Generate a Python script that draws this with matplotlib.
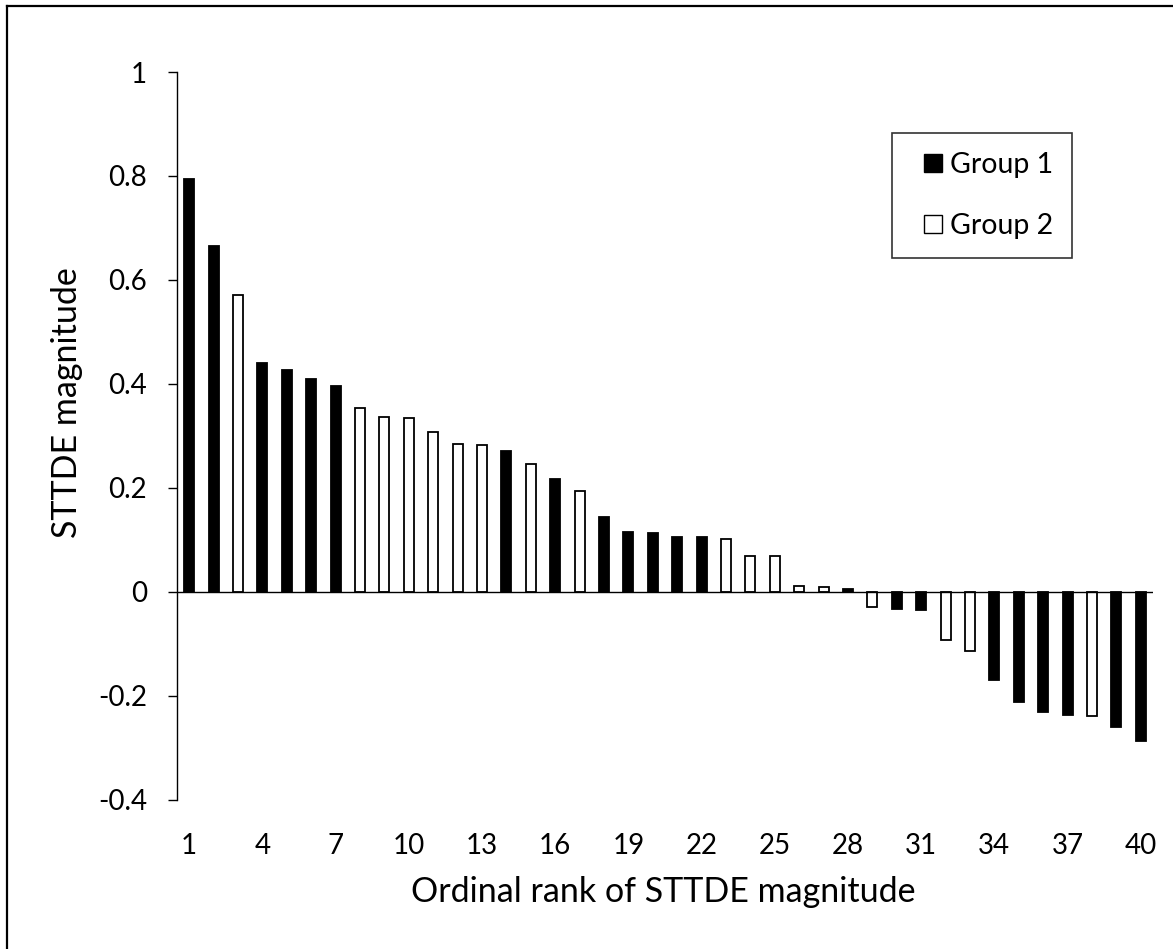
import matplotlib
matplotlib.use("Agg")
import matplotlib.pyplot as plt
from matplotlib.lines import Line2D

plt.rcParams['font.family'] = ['Lato', 'DejaVu Sans']

ranks = list(range(1, 41))
values = [0.794, 0.665, 0.571, 0.440, 0.426, 0.410, 0.397, 0.354, 0.337, 0.335,
          0.308, 0.285, 0.283, 0.272, 0.246, 0.218, 0.194, 0.144, 0.115, 0.113,
          0.106, 0.106, 0.102, 0.070, 0.069, 0.011, 0.010, 0.005, -0.028, -0.033,
          -0.035, -0.093, -0.113, -0.169, -0.212, -0.230, -0.236, -0.238, -0.260, -0.287]
groups = [1, 1, 2, 1, 1, 1, 1, 2, 2, 2,
          2, 2, 2, 1, 2, 1, 2, 1, 1, 1,
          1, 1, 2, 2, 2, 2, 2, 1, 2, 1,
          1, 2, 2, 1, 1, 1, 1, 2, 1, 1]
xtick_values = list(range(1, 41, 3))
ytick_values = [-0.4, -0.2, 0, 0.2, 0.4, 0.6, 0.8, 1]
ytick_labels = ['-0.4', '-0.2', '0', '0.2', '0.4', '0.6', '0.8', '1']
legend_labels = ['Group 1', 'Group 2']
xlabel = 'Ordinal rank of STTDE magnitude'
ylabel = 'STTDE magnitude'

W, H = 1173, 949
fig = plt.figure(figsize=(W / 100, H / 100), dpi=100)
left, right, top, bottom = 177, 1153, 72, 800
ax = fig.add_axes([left / W, 1 - bottom / H, (right - left) / W, (bottom - top) / H])

colors = ['black' if g == 1 else 'white' for g in groups]
ax.bar(ranks, values, width=0.41, color=colors, edgecolor='black', linewidth=1.3, zorder=2)

ax.set_xlim(0.5, 40.5)
ax.set_ylim(-0.4, 1.0)
ax.axhline(0, color='black', linewidth=1.0, zorder=3)

for s in ['top', 'right', 'bottom']:
    ax.spines[s].set_visible(False)
ax.spines['left'].set_linewidth(1.0)

ax.set_yticks(ytick_values)
ax.set_yticklabels(ytick_labels)
ax.set_xticks(xtick_values)
ax.set_xticklabels([str(v) for v in xtick_values])
ax.tick_params(axis='y', direction='out', length=6.5, width=1.0, pad=15, labelsize=20)
ax.tick_params(axis='x', length=0, pad=24, labelsize=20)

fig.text(663 / W, 1 - 892 / H, xlabel, ha='center', va='center', fontsize=24.5)
fig.text(67 / W, 1 - 403 / H, ylabel, ha='center', va='center', rotation=90, fontsize=24.5)

handles = [Line2D([], [], linestyle='none', marker='s', markersize=12.5,
                  markerfacecolor='black', markeredgecolor='black', markeredgewidth=1.0),
           Line2D([], [], linestyle='none', marker='s', markersize=12.5,
                  markerfacecolor='white', markeredgecolor='black', markeredgewidth=1.0)]
leg = ax.legend(handles, legend_labels, loc='upper left',
                bbox_to_anchor=(892 / W, 1 - 133 / H), bbox_transform=fig.transFigure,
                fontsize=20.5, frameon=True, fancybox=False, edgecolor='black',
                handlelength=1.6, handletextpad=-0.2,
                labelspacing=1.25, borderpad=0.65, borderaxespad=0)
leg.get_frame().set_linewidth(1.2)

# outer chart border (left and top visible)
fig.add_artist(Line2D([7 / W, 7 / W], [0, 1 - 6 / H], transform=fig.transFigure,
                      color='black', linewidth=1.6))
fig.add_artist(Line2D([7 / W, 1], [1 - 6 / H, 1 - 6 / H], transform=fig.transFigure,
                      color='black', linewidth=1.6))

fig.savefig('out.png', dpi=100)
